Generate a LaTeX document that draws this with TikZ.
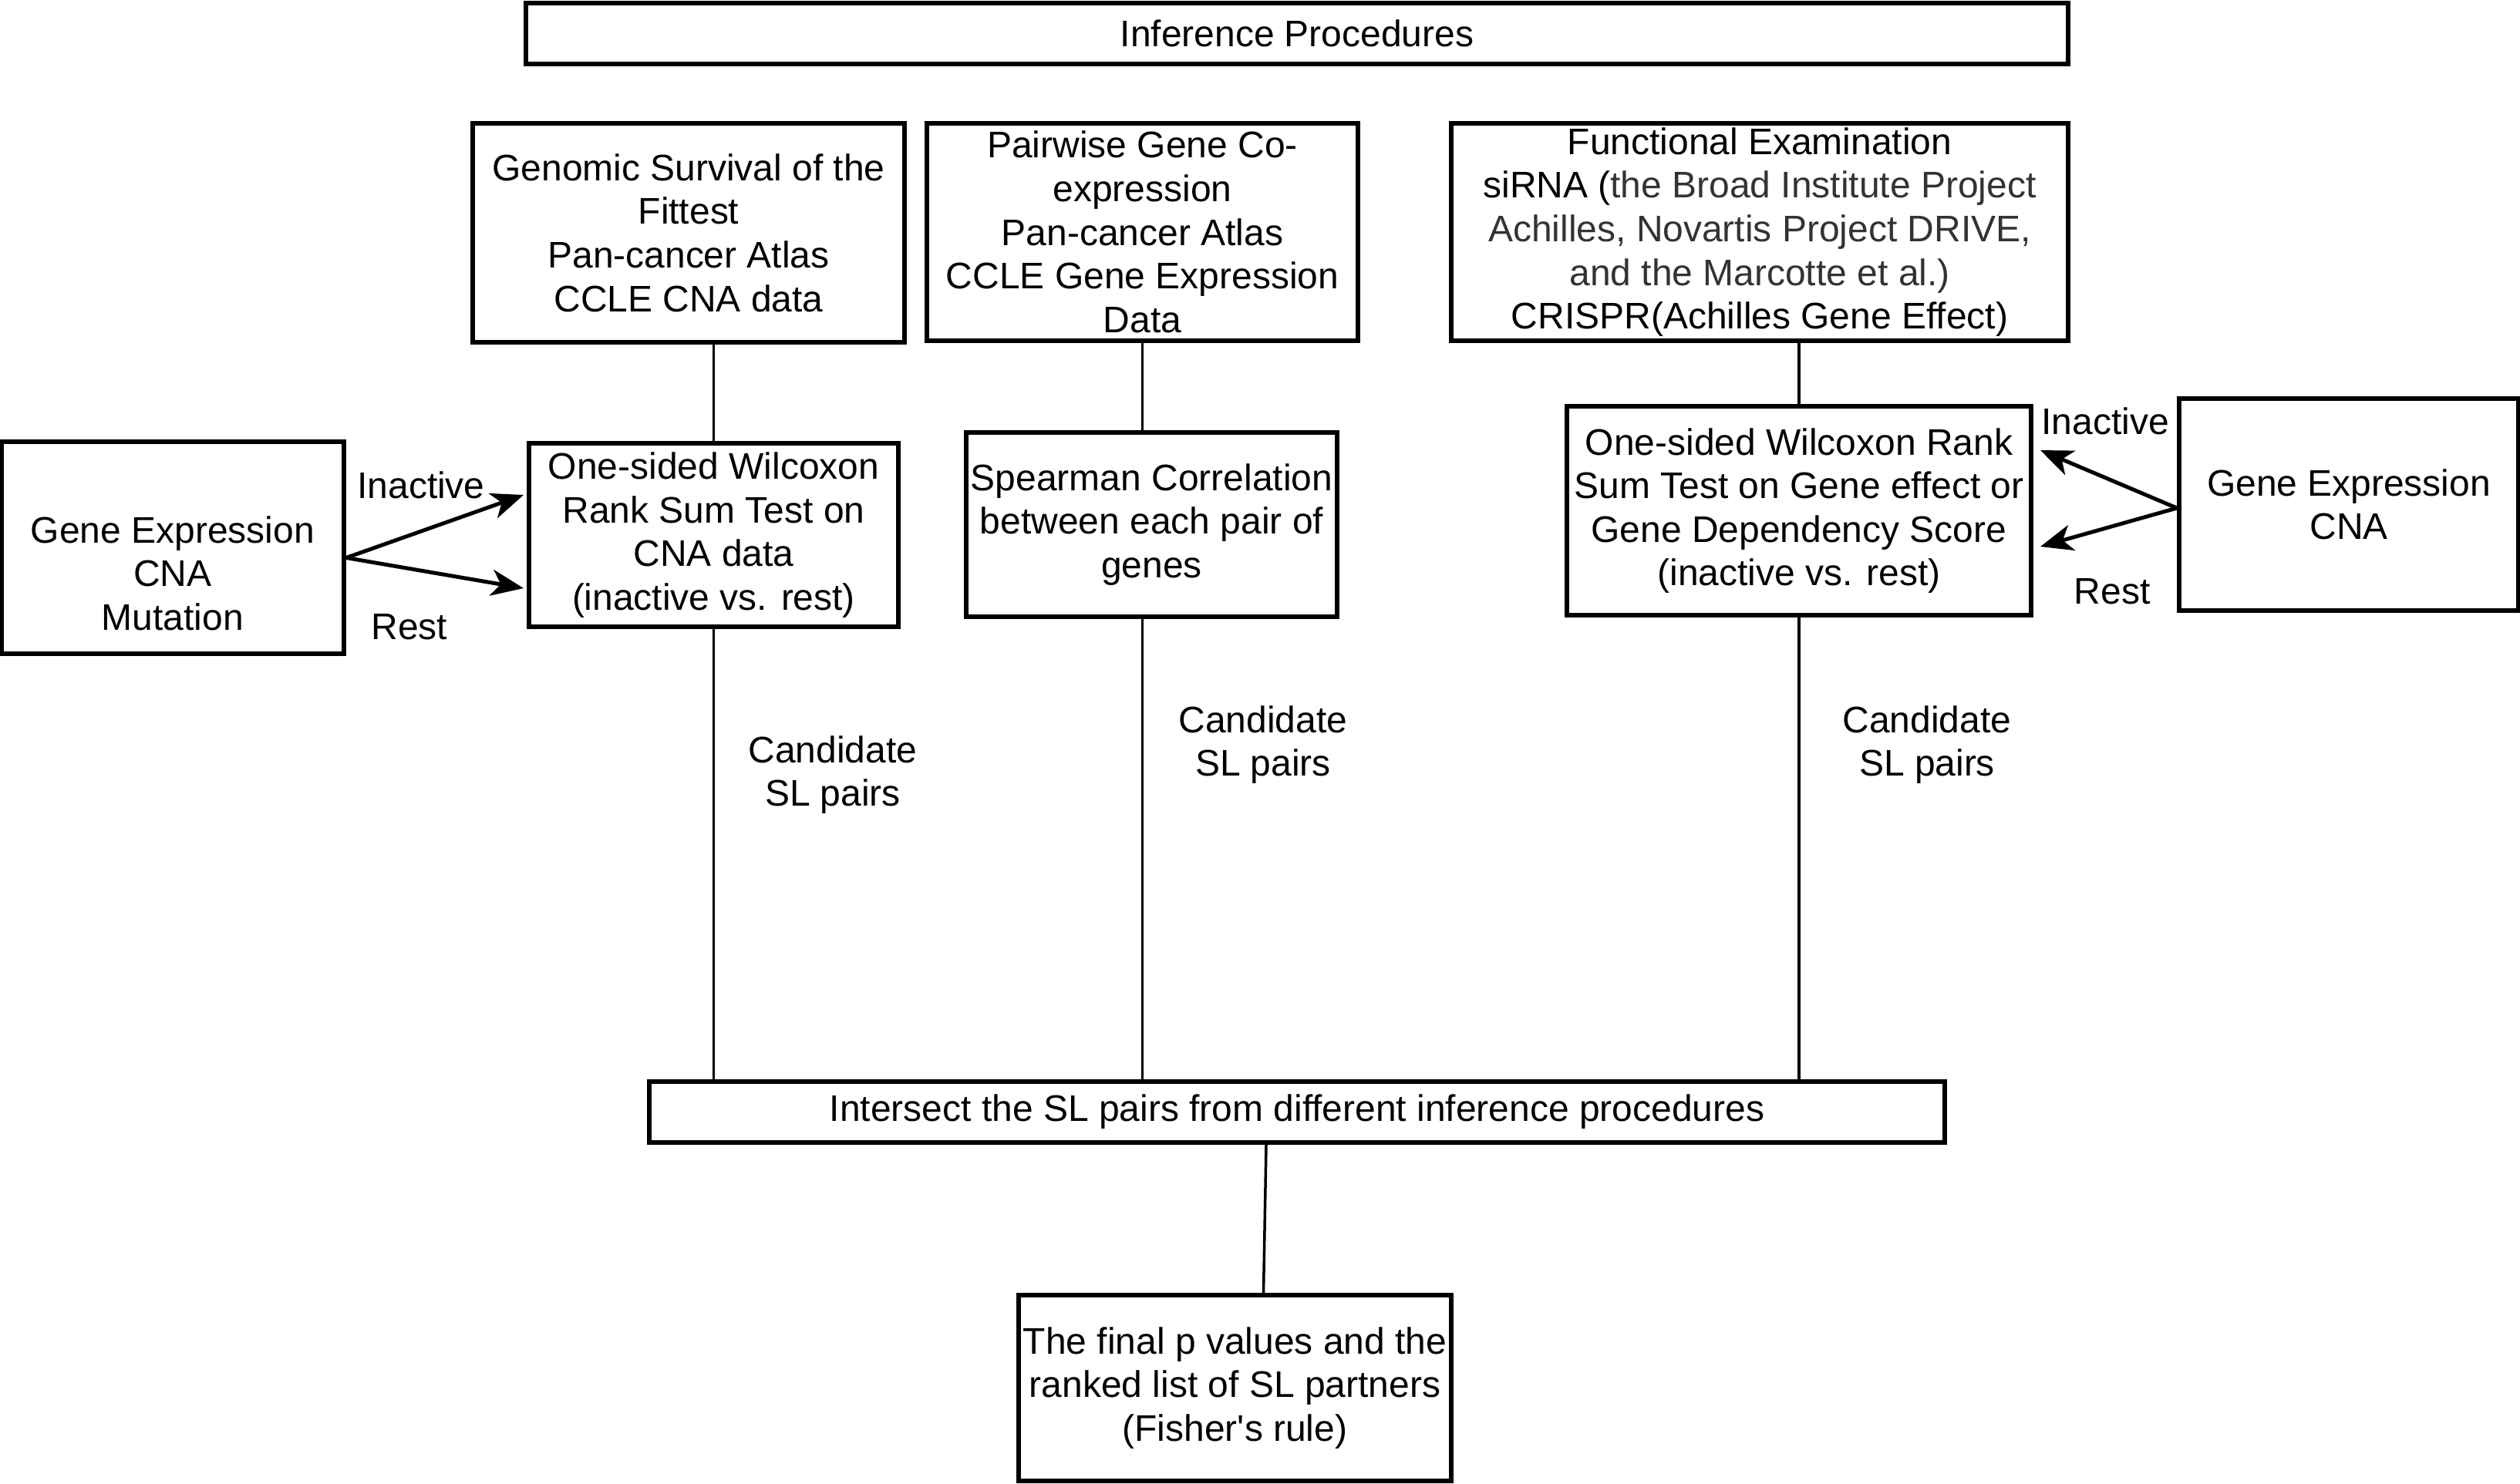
\documentclass[tikz,border=0pt]{standalone}
\usepackage{fontspec}
\setmainfont{Liberation Sans}
\usetikzlibrary{arrows.meta}
\definecolor{refgrey}{HTML}{333333}
\begin{document}
\begin{tikzpicture}[y=-1cm,
box/.style={draw,line width=0.06cm,inner sep=0pt},
txt/.style={align=center,font=\fontsize{13.65}{16.1}\selectfont},
link/.style={line width=0.035cm},
arr/.style={line width=0.05cm,-{Stealth[length=0.42cm,width=0.34cm,inset=0.12cm]}}]
\useasboundingbox(0,0)rectangle(32.68,19.24);
\node[box,txt,minimum width=20cm,minimum height=0.79cm](top)at(16.82,0.43){Inference Procedures};
\node[box,txt,minimum width=5.6cm,minimum height=2.84cm](gen)at(8.93,3.02){Genomic Survival of the\\Fittest\\Pan-cancer Atlas\\CCLE CNA data};
\node[box,txt,minimum width=5.59cm,minimum height=2.82cm](pair)at(14.815,3.01){Pairwise Gene Co-\\expression\\Pan-cancer Atlas\\CCLE Gene Expression\\Data};
\node[box,txt,minimum width=8cm,minimum height=2.82cm](func)at(22.82,3.01){Functional Examination\\siRNA ({\color{refgrey}the Broad Institute Project}\\{\color{refgrey}Achilles, Novartis Project DRIVE,}\\{\color{refgrey}and the Marcotte et al.)}\\CRISPR(Achilles Gene Effect)};
\node[box,minimum width=4.44cm,minimum height=2.75cm,label={[txt,yshift=-0.33cm]center:Gene Expression\\CNA\\Mutation}](ge1)at(2.24,7.105){};
\node[box,txt,minimum width=4.79cm,minimum height=2.38cm](wil1)at(9.255,6.94){One-sided Wilcoxon\\Rank Sum Test on\\CNA data\\(inactive vs. rest)};
\node[box,txt,minimum width=4.81cm,minimum height=2.39cm](spear)at(14.935,6.805){Spearman Correlation\\between each pair of\\genes};
\node[box,txt,minimum width=6.02cm,minimum height=2.71cm](wil2)at(23.33,6.625){One-sided Wilcoxon Rank\\Sum Test on Gene effect or\\Gene Dependency Score\\(inactive vs. rest)};
\node[box,txt,minimum width=4.4cm,minimum height=2.75cm](ge2)at(30.46,6.545){Gene Expression\\CNA};
\node[box,txt,minimum width=16.8cm,minimum height=0.79cm](inter)at(16.82,14.425){Intersect the SL pairs from different inference procedures};
\node[box,txt,minimum width=5.61cm,minimum height=2.41cm](final)at(16.015,18.005){The final p values and the\\ranked list of SL partners\\(Fisher\textquotesingle s rule)};
\draw[link](wil1.north|-gen.south)--(wil1.north);
\draw[link](pair.south)--(pair.south|-spear.north);
\draw[link](wil2.north|-func.south)--(wil2.north);
\draw[link](wil1.south)--(wil1.south|-inter.north);
\draw[link](pair.south|-spear.south)--(pair.south|-inter.north);
\draw[link](wil2.south)--(wil2.south|-inter.north);
\draw[link]([xshift=-0.40cm]inter.south)--([xshift=0.37cm]final.north);
\draw[arr]([yshift=-0.13cm]ge1.east)--([xshift=-0.04cm,yshift=0.52cm]wil1.west);
\draw[arr]([yshift=-0.13cm]ge1.east)--([xshift=-0.04cm,yshift=-0.69cm]wil1.west);
\draw[arr]([yshift=-0.045cm]ge2.west)--([xshift=0.09cm,yshift=0.785cm]wil2.east);
\draw[arr]([yshift=-0.045cm]ge2.west)--([xshift=0.09cm,yshift=-0.465cm]wil2.east);
\node[txt](inact1)at(5.46,6.29){Inactive};
\node[txt](rest1)at(5.31,8.13){Rest};
\node[txt](inact2)at(27.30,5.46){Inactive};
\node[txt](rest2)at(27.39,7.67){Rest};
\node[txt](cand1)at(10.80,10.05){Candidate\\SL pairs};
\node[txt](cand2)at(16.38,9.66){Candidate\\SL pairs};
\node[txt](cand3)at(24.99,9.66){Candidate\\SL pairs};
\end{tikzpicture}
\end{document}
